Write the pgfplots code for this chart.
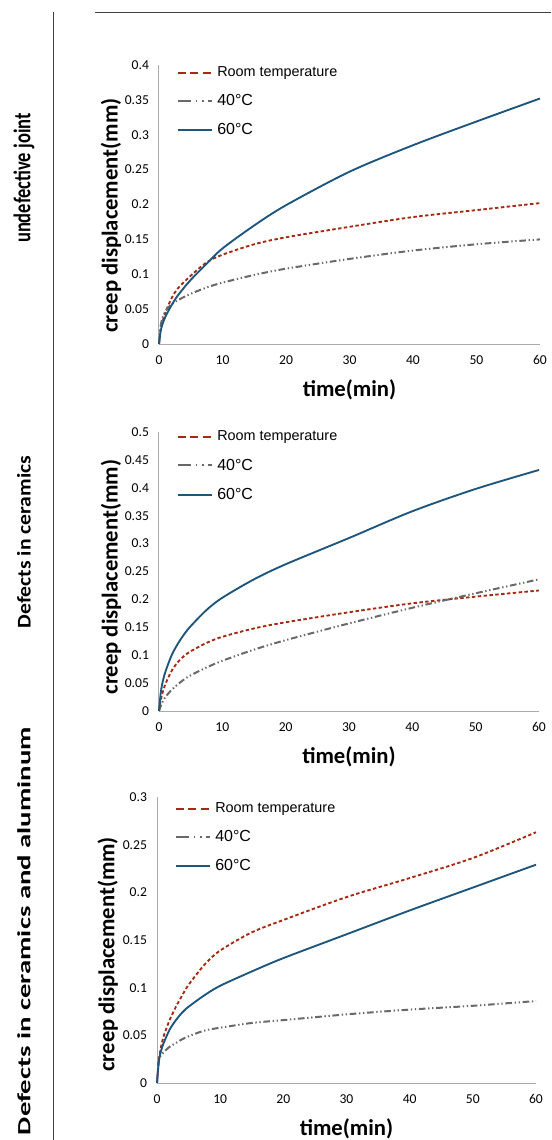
\documentclass[border=0pt]{standalone}
\usepackage{fontspec}
\setmainfont{Carlito}
\newfontfamily\legfont{Liberation Sans}
\usepackage{graphicx}
\usepackage{pgfplots}
\usepackage{pgfplotstable}
\pgfplotsset{compat=1.18}

\definecolor{rtred}{RGB}{165,42,20}
\definecolor{grayc}{RGB}{105,105,105}
\definecolor{bluec}{RGB}{30,85,125}
\definecolor{axgray}{RGB}{170,170,170}

% t, room temperature, 40C, 60C
\pgfplotstableread{
t rt c40 c60
0 0 0 0
0.25 0.02 0.025 0.018
0.5 0.03 0.036 0.027
1 0.045 0.047 0.039
2 0.066 0.057 0.056
3 0.08 0.063 0.07
5 0.098 0.072 0.092
7.5 0.117 0.081 0.115
10 0.128 0.088 0.137
15 0.143 0.099 0.17
20 0.153 0.108 0.199
30 0.168 0.122 0.247
40 0.182 0.134 0.285
50 0.192 0.143 0.319
60 0.202 0.150 0.352
}\tabjoint

\pgfplotstableread{
t rt c40 c60
0 0 0 0
0.25 0.018 0.008 0.03
0.5 0.03 0.015 0.048
1 0.048 0.025 0.07
2 0.072 0.038 0.1
3 0.088 0.048 0.121
4 0.099 0.057 0.138
5 0.107 0.064 0.152
7.5 0.122 0.078 0.181
10 0.133 0.09 0.203
15 0.148 0.11 0.236
20 0.159 0.127 0.263
30 0.177 0.157 0.31
40 0.193 0.185 0.358
50 0.205 0.211 0.398
60 0.216 0.236 0.432
}\tabceram

\pgfplotstableread{
t rt c40 c60
0 0 0 0
0.25 0.022 0.022 0.02
0.5 0.033 0.028 0.03
1 0.048 0.032 0.041
2 0.066 0.038 0.056
3 0.08 0.042 0.066
4 0.092 0.046 0.074
5 0.103 0.049 0.08
7.5 0.124 0.055 0.092
10 0.139 0.058 0.102
15 0.158 0.063 0.117
20 0.171 0.066 0.131
30 0.195 0.072 0.156
40 0.215 0.077 0.181
50 0.236 0.081 0.205
60 0.263 0.086 0.229
}\tabalum

\pgfplotsset{
  creep/.style={
    scale only axis, anchor=south west,
    axis x line*=bottom, axis y line*=left,
    axis line style={axgray, line width=0.75pt, -},
    xmin=0, xmax=60, ymin=0, xtick={0,10,...,60},
    enlargelimits=false, clip=false,
    major tick length=0pt, tick style={draw=none},
    /pgf/number format/assume math mode=true,
    tick label style={font=\fontsize{10.2}{12}\selectfont},
    yticklabel style={/pgf/number format/fixed, /pgf/number format/precision=2, xshift=-4pt},
    xticklabel style={yshift=-5pt},
    xlabel={time(min)}, ylabel={creep displacement(mm)},
    label style={font=\bfseries\fontsize{17}{20}\selectfont},
    xlabel style={at={([yshift=-34pt]rel axis cs:0.5,0)}, anchor=center},
    legend cell align=left,
    legend style={draw=none, fill=none, at={(rel axis cs:0,1)}, anchor=north west,
      font=\legfont, row sep=10pt, column sep=2pt, nodes={inner sep=1pt}},
  },
  rt/.style={rtred, line width=1.4pt, dash pattern=on 2.6pt off 1.8pt, smooth, tension=0.5,
    legend image code/.code={\draw[rtred, line width=1.5pt, dash pattern=on 6pt off 3.5pt] (0pt,0pt) -- (26pt,0pt);}},
  cf/.style={grayc, line width=1.5pt, dash pattern=on 5pt off 2pt on 1pt off 2pt on 1pt off 2pt, smooth, tension=0.5,
    legend image code/.code={\draw[grayc, line width=1.5pt, dash pattern=on 10pt off 3.5pt on 1.3pt off 3.5pt on 1.3pt off 3.5pt] (0pt,0pt) -- (26pt,0pt);}},
  cs/.style={bluec, line width=1.4pt, smooth, tension=0.5,
    legend image code/.code={\draw[bluec, line width=1.4pt] (0pt,0pt) -- (26pt,0pt);}},
}

\newcommand{\legentries}{%
  \addlegendentry{\fontsize{10.8}{12}\selectfont Room temperature}
  \addlegendentry{\fontsize{12}{14}\selectfont 40°C}
  \addlegendentry{\fontsize{12}{14}\selectfont 60°C}}

\begin{document}
\begin{tikzpicture}
\useasboundingbox (0pt,0pt) rectangle (413.25pt,-855pt);
\draw[black!75, line width=0.75pt] (39.75pt,-9pt) -- (39.75pt,-855pt);
\draw[black!75, line width=0.75pt] (71.25pt,-9pt) -- (413.25pt,-9pt);

\node[rotate=90, font=\bfseries\fontsize{18}{20}\selectfont] at (18pt,-133.5pt) {\scalebox{0.77}[1]{undefective joint}};
\node[rotate=90, font=\bfseries\fontsize{14.5}{17}\selectfont] at (18pt,-406.5pt) {\scalebox{1.12}[1]{Defects in ceramics}};
\node[rotate=90, font=\bfseries\fontsize{14}{17}\selectfont] at (18pt,-698.25pt) {\scalebox{1.54}[1]{Defects in ceramics and aluminum}};

\begin{axis}[creep, at={(119.25pt,-258pt)}, width=285.75pt, height=209.25pt,
  ymax=0.4, ytick={0,0.05,...,0.4},
  ylabel style={at={([xshift=-36pt]rel axis cs:0,0.46)}, anchor=center},
  legend style={xshift=10pt, yshift=2pt}]
\addplot[rt] table[x=t, y=rt] {\tabjoint};
\addplot[cf] table[x=t, y=c40] {\tabjoint};
\addplot[cs] table[x=t, y=c60] {\tabjoint};
\legentries
\end{axis}

\begin{axis}[creep, at={(119.25pt,-533.25pt)}, width=285pt, height=209.25pt,
  ymax=0.5, ytick={0,0.05,...,0.5},
  ylabel style={at={([xshift=-36pt]rel axis cs:0,0.48)}, anchor=center},
  legend style={xshift=10pt, yshift=4pt}]
\addplot[rt] table[x=t, y=rt] {\tabceram};
\addplot[cf] table[x=t, y=c40] {\tabceram};
\addplot[cs] table[x=t, y=c60] {\tabceram};
\legentries
\end{axis}

\begin{axis}[creep, at={(117.75pt,-812.25pt)}, width=284.25pt, height=214.5pt,
  ymax=0.3, ytick={0,0.05,...,0.3},
  ylabel style={at={([xshift=-37pt]rel axis cs:0,0.45)}, anchor=center},
  legend style={xshift=10pt, yshift=-1pt}]
\addplot[rt] table[x=t, y=rt] {\tabalum};
\addplot[cf] table[x=t, y=c40] {\tabalum};
\addplot[cs] table[x=t, y=c60] {\tabalum};
\legentries
\end{axis}
\end{tikzpicture}
\end{document}
